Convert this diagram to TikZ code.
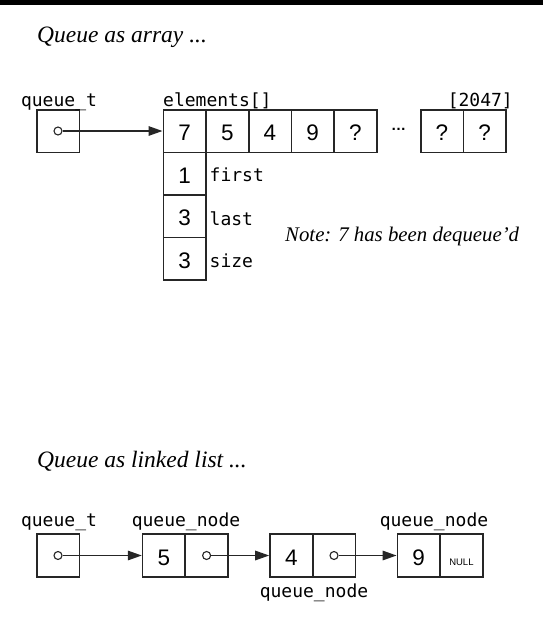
\documentclass[tikz,border=0pt]{standalone}
\usepackage{fontspec}
\setmainfont{Liberation Serif}
\setsansfont{Liberation Sans}
\setmonofont{DejaVu Sans Mono}
\usetikzlibrary{arrows.meta}
\newcommand{\us}{\char"5F\relax}

\begin{document}
\begin{tikzpicture}[x=1pt,y=-1pt,
    cell/.style={draw=black!85,line width=1.6pt,minimum size=42.6pt,inner sep=0pt,
      font=\sffamily\fontsize{22.5}{24}\selectfont,text height=19.5pt,text depth=0pt},
    ptr/.style={circle,draw=black!85,line width=1.1pt,fill=white,minimum size=8pt,inner sep=0pt},
    link/.style={draw=black!85,line width=1.5pt,-{Triangle[length=14pt,width=9.5pt]}},
    lbl/.style={font=\ttfamily\fontsize{18}{20}\selectfont,inner sep=0pt},
    title/.style={font=\itshape\fontsize{23.5}{27}\selectfont,inner sep=0pt,anchor=base west}]
    \useasboundingbox (0,0) rectangle (543,625);
    \fill (0,0) rectangle (543,5);%
    \node[title] (ta) at (37,42) {Queue as array ...};
    \node[title] (tl) at (37,467) {Queue as linked list ...};
    \node[title,font=\itshape\fontsize{20.8}{24}\selectfont] (note) at (285,241) {Note: 7 has been dequeue’d};%
    \node[cell] (q) at (58,131) {};
    \node[cell] (a0) at (184.6,131) {7};
    \node[cell] (a1) at (227.3,131) {5};
    \node[cell] (a2) at (270,131) {4};
    \node[cell] (a3) at (312.7,131) {9};
    \node[cell] (a4) at (355.4,131) {?};
    \node[cell] (b0) at (442,131) {?};
    \node[cell] (b1) at (484.7,131) {?};
    \node[cell] (first) at (184.6,173.6) {1};
    \node[cell] (last) at (184.6,216.2) {3};
    \node[cell] (size) at (184.6,258.8) {3};%
    \node[font=\sffamily\bfseries\fontsize{15}{16}\selectfont,inner sep=0pt,anchor=base] (dots) at (398.5,130.5) {…};%
    \node[lbl,anchor=base] (lq) at (59,106) {queue\us t};
    \node[lbl,anchor=base west] (le) at (163,106.5) {elements[]};
    \node[lbl,anchor=base east] (lr) at (513,106.5) {[2047]};
    \node[lbl,anchor=base west] (lf) at (209.5,181.7) {first};
    \node[lbl,anchor=base west] (ll) at (209.5,225) {last};
    \node[lbl,anchor=base west] (ls) at (209.5,267.3) {size};%
    \node[ptr] (qp) at (q.center) {};
    \draw[link] (qp) -- (a0);%
    \node[cell] (r) at (58,555.5) {};
    \node[cell] (n1v) at (163.9,555.5) {5};
    \node[cell] (n1p) at (206.6,555.5) {};
    \node[cell] (n2v) at (291.3,555.5) {4};
    \node[cell] (n2p) at (334,555.5) {};
    \node[cell] (n3v) at (418.7,555.5) {9};
    \node[cell] (n3p) at (461.4,555.5) {\fontsize{9.5}{11}\selectfont NULL};%
    \node[lbl,anchor=base] (lr0) at (59,526) {queue\us t};
    \node[lbl,anchor=base] (ln1) at (186,526) {queue\us node};
    \node[lbl,anchor=base] (ln2) at (314,597) {queue\us node};
    \node[lbl,anchor=base] (ln3) at (434,526) {queue\us node};%
    \node[ptr] (rp) at (r.center) {};
    \node[ptr] (n1pp) at (n1p.center) {};
    \node[ptr] (n2pp) at (n2p.center) {};
    \draw[link] (rp) -- (n1v);
    \draw[link] (n1pp) -- (n2v);
    \draw[link] (n2pp) -- (n3v);%
\end{tikzpicture}
\end{document}
